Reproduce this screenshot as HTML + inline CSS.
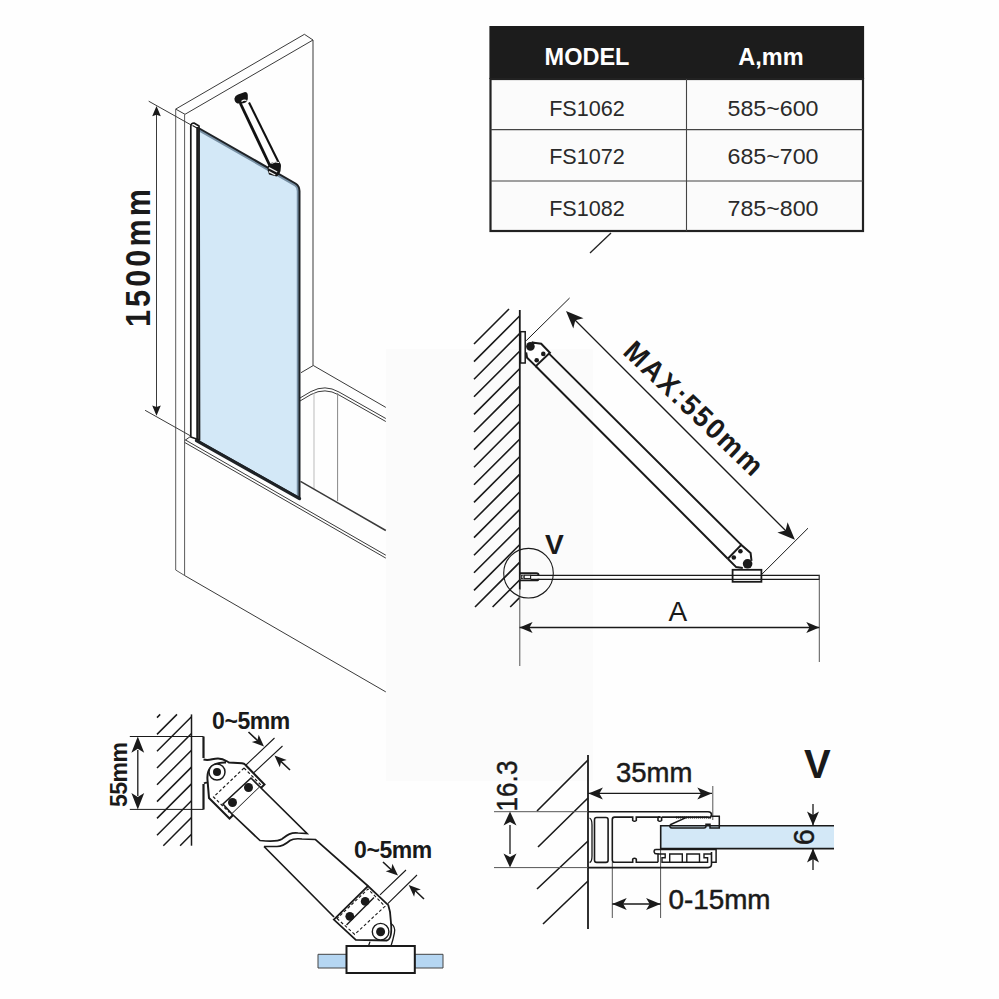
<!DOCTYPE html>
<html><head><meta charset="utf-8">
<style>
html,body{margin:0;padding:0;background:#fff;width:999px;height:999px;overflow:hidden}
svg{display:block}
text{font-family:"Liberation Sans",sans-serif}
</style></head>
<body>
<svg width="999" height="999" viewBox="0 0 999 999">
<rect x="0" y="0" width="999" height="999" fill="#fefefe"/>
<rect x="386" y="349" width="207" height="432" fill="#fbfbfb"/>
<g fill="none" stroke="#3a3a3a" stroke-width="1">
  <path d="M175.7,109.1 L304.4,34.3 L313,40 L185,114.3 Z"/>
  <path d="M175.7,109.1 V570 L184.6,575.5" stroke="#5a5a5a"/>
  <path d="M184.6,114.3 V575.5" stroke="#5a5a5a"/>
  <path d="M313,40 V365.5"/>
  <path d="M301,372.7 L313.3,365.5 L385.8,407.4"/>
  <path d="M300,398 L311,391.5 Q325,384 339,392 L385.8,418.5"/>
  <path d="M300,401 L311,394.5 Q325,387 339,395 L385.8,421.5"/>
  <path d="M314,393 V489" stroke="#bbb"/>
  <path d="M337.6,393 V501" stroke="#888"/>
  <path d="M300.5,481.3 L385.8,530.5" stroke-width="1.5"/>
  <path d="M184.75,440.5 L190,436.8 M185.5,440 L385.8,555.2"/>
  <path d="M184.75,442.5 L385.8,558.1"/>
  <path d="M184.6,575.5 L385.8,691.9"/>
  <path d="M148.7,101.2 L191.7,125.3"/>
  <path d="M145.1,410.3 L190.4,435.8"/>
  <path d="M156.5,112 V410"/>
</g>
<g fill="#1a1a1a">
  <path d="M156.5,106 L152.2,116.2 L156.5,114.8 L160.8,116.2 Z"/>
  <path d="M156.5,415.8 L152.2,405.6 L156.5,407 L160.8,405.6 Z"/>
</g>
<defs><clipPath id="gclip"><path d="M198.5,128 L295.5,183.5 Q299.5,186 299.5,191 V498 L196.5,440 Z"/></clipPath></defs>
<path d="M198.5,128 L295.5,183.5 Q299.5,186 299.5,191 V498 L196.5,440 Z" fill="#d3e8f7"/>
<path d="M198.5,128 L295.5,183.5 Q299.5,186 299.5,191 V498" fill="none" stroke="#7890a4" stroke-width="5.5" clip-path="url(#gclip)"/>
<path d="M198.5,128 L295.5,183.5 Q299.5,186 299.5,191 V498 L196.5,440 Z" fill="none" stroke="#1e2226" stroke-width="2" stroke-linejoin="round"/>
<path d="M196.5,440.6 L299.5,498.6" stroke="#1e2226" stroke-width="3.2" stroke-linecap="round"/>
<path d="M190.8,437 V126 Q191,123 194,123 L199,126 L199.5,440 Z" fill="#fff" stroke="#1a1a1a" stroke-width="1.7" stroke-linejoin="round"/>
<path d="M192.5,125.5 L197,128" stroke="#1a1a1a" stroke-width="1.2"/>
<path d="M197.5,127 V440" stroke="#1a1a1a" stroke-width="2.5"/>
<g stroke="#111" fill="none">
  <path d="M240.2,103 L269.8,165.5" stroke-width="2.8"/>
  <path d="M249,102.5 L278.9,163" stroke-width="2.1"/>
</g>
<path d="M234.4,98.5 Q235,95.5 238,94.5 L245,92 Q247.5,92 247.8,95 L247.8,99 Q247,103 242,103.5 L237.5,103.5 Q234.5,102.5 234.4,98.5Z" fill="#151515"/>
<path d="M241.5,101.5 Q244,99.5 246.5,100.5" stroke="#fff" stroke-width="1.3" fill="none"/>
<path d="M267.5,167 Q268.5,164 272,162.5 L277.5,161.5 Q281,162 281,166 L280.5,171 Q279,175.5 276.5,176.5 L269,174.5 Q267.5,172 267.5,167Z" fill="#151515"/>
<path d="M268.8,167.6 L277.2,172 M268.8,171.6 L275.3,175" stroke="#eee" stroke-width="1.4" fill="none"/>
<path d="M271.5,163.5 Q275,161 279,162.5" stroke="#fff" stroke-width="1" fill="none"/>
<text transform="translate(150,327) rotate(-90) scale(0.88,1)" font-size="34.8" font-weight="bold" letter-spacing="3.5" fill="#1a1a1a">1500mm</text>
<rect x="489.4" y="26" width="374.7" height="53" fill="#1c1c1c"/>
<rect x="490.5" y="79" width="372.5" height="152" fill="#fbfbfb" stroke="#222" stroke-width="2.2"/>
<path d="M490.5,129.6 H863 M490.5,181 H863 M686.5,79 V231" stroke="#444" stroke-width="1.1" fill="none"/>
<g font-size="23.5" font-weight="bold" fill="#fff" text-anchor="middle">
  <text x="587" y="65.2">MODEL</text>
  <text x="771" y="65.2">A,mm</text>
</g>
<g font-size="22.6" fill="#2a2a2a" text-anchor="middle">
  <text x="587" y="115.6" textLength="75.7" lengthAdjust="spacingAndGlyphs">FS1062</text>
  <text x="773" y="115.6" textLength="90.9" lengthAdjust="spacingAndGlyphs">585~600</text>
  <text x="587" y="163.6" textLength="75.7" lengthAdjust="spacingAndGlyphs">FS1072</text>
  <text x="773" y="163.6" textLength="90.9" lengthAdjust="spacingAndGlyphs">685~700</text>
  <text x="587" y="216" textLength="75.7" lengthAdjust="spacingAndGlyphs">FS1082</text>
  <text x="773" y="216" textLength="90.9" lengthAdjust="spacingAndGlyphs">785~800</text>
</g>
<path d="M611,233 L590,253" stroke="#222" stroke-width="1.3"/>
<g fill="none" stroke="#1a1a1a">
  <path d="M474.0,344.0 L509.0,309.0 M474.0,361.6 L519.6,316.0 M474.0,379.2 L519.6,333.6 M474.0,396.8 L519.6,351.2 M474.0,414.4 L519.6,368.8 M474.0,432.0 L519.6,386.4 M474.0,449.6 L519.6,404.0 M474.0,467.2 L519.6,421.6 M474.0,484.8 L519.6,439.2 M474.0,502.4 L519.6,456.8 M474.0,520.0 L519.6,474.4 M474.0,537.6 L519.6,492.0 M474.0,555.2 L519.6,509.6 M474.0,572.8 L519.6,527.2 M474.0,590.4 L519.6,544.8 M475.0,607.0 L519.6,562.4 M492.6,607.0 L519.6,580.0 M510.2,607.0 L519.6,597.6" stroke-width="1.6"/>
  <path d="M519.8,310 V589.5" stroke-width="1.8"/>
  <path d="M519.8,589 V666" stroke-width="1" stroke="#555"/>
  <rect x="520.6" y="331.7" width="4.6" height="31.3" stroke-width="1.5" fill="#fff"/>
  <path d="M526.2,340.7 L569.6,298" stroke-width="1"/>
  <path d="M761.8,574.3 L808,528.2" stroke-width="1"/>
  <path d="M571,316 L790,535" stroke-width="1.3"/>
  <path d="M549,353.6 L741.3,544.9 M535.8,366.2 L727.8,558.7" stroke-width="2"/>
  <path d="M531.6,342.2 Q534,343 535.8,343.1 L541.2,343.7 L549.9,352.7 L535.8,366.2 L527.1,357.8 L526.2,352.4" stroke-width="2" fill="#fff"/>
  <path d="M727.8,558.7 L741.3,544.9 L750.6,553 L751.5,560.8 M727.8,558.7 L736.2,567.1 L742.8,568" stroke-width="2" fill="#fff"/>
  <path d="M530.6,575.3 H819.3 V579.3 H530.6" stroke-width="1.2"/>
  <path d="M819.3,575 V662" stroke-width="1" stroke="#555"/>
  <path d="M520,573.2 H536.3 Q538.6,573.2 538.6,575.3 M520,580.4 H536.3 Q538.6,580.4 538.6,578.8" stroke-width="1.9"/>
  <rect x="521.5" y="575.2" width="1.6" height="3.4" stroke-width="0.8"/>
  <rect x="524.2" y="575.2" width="6.4" height="3.4" stroke-width="1.1"/>
  <rect x="732.6" y="569.8" width="28.8" height="12" stroke-width="1.8" fill="#fff"/>
  <path d="M732.6,575.3 H761.4 M732.6,579.4 H761.4" stroke-width="1.2"/>
  <circle cx="528.5" cy="573.2" r="24.8" stroke-width="1.1"/>
  <path d="M519.6,627.5 H819.3" stroke-width="1.3"/>
</g>
<g fill="#1a1a1a">
  <circle cx="530.4" cy="346.4" r="4.3"/>
  <circle cx="543.3" cy="353.9" r="2.3"/>
  <circle cx="536.7" cy="360.2" r="2.3"/>
  <circle cx="747.6" cy="563.8" r="4.8"/>
  <circle cx="740.4" cy="551.2" r="2.3"/>
  <circle cx="733.8" cy="557.5" r="2.3"/>
  <path d="M566.0,311.0 L583.5,318.3 L575.3,320.3 L573.3,328.5 Z"/>
  <path d="M794.9,539.8 L777.4,532.5 L785.6,530.5 L787.6,522.3 Z"/>
  <path d="M519.6,627.5 L532.6,622.0 L529.4,627.5 L532.6,633.0 Z"/>
  <path d="M819.3,627.5 L806.3,633.0 L809.5,627.5 L806.3,622.0 Z"/>
</g>
<text transform="translate(621.7,353.3) rotate(43.6) scale(0.94,1)" font-size="28.8" font-weight="bold" letter-spacing="2.3" fill="#1a1a1a">MAX:550mm</text>
<text x="545" y="554.4" font-size="28.2" font-weight="bold" fill="#1a1a1a">V</text>
<text x="668.5" y="621.2" font-size="28" fill="#1a1a1a">A</text>
<g fill="none" stroke="#1a1a1a">
  <path d="M157.0,717.6 L160.2,714.4 M157.0,734.4 L177.0,714.4 M157.0,751.2 L191.5,716.7 M157.0,768.0 L191.5,733.5 M157.0,784.8 L191.5,750.3 M157.0,801.6 L191.5,767.1 M157.0,818.4 L191.5,783.9 M157.0,835.2 L191.5,800.7 M163.3,845.7 L191.5,817.5 M180.1,845.7 L191.5,834.3" stroke-width="1.5"/>
  <path d="M191.5,714.4 V845.7" stroke-width="1.5"/>
  <path d="M129.8,736.5 H203.5 M129.8,809.4 H203.5" stroke-width="1"/>
  <path d="M137.8,750 V796" stroke-width="1.3"/>
  <path d="M203.5,736.5 V758 M203.5,784 V809.4" stroke-width="2.2"/>
  <path d="M203.5,759.5 C210,761 212,758.5 218,758.5 C224,758.5 226,761 229,762.5 L242,763.2 Q244.5,763.5 246,765.5 L264.5,784.5 L229.5,818.5 L209,798 L207.5,780 Q206,762 226,762.5" stroke-width="2" fill="#fff"/>
  <path d="M204,783.5 Q206,782 207.8,783" stroke-width="1.8"/>
  <circle cx="217" cy="772" r="8" stroke-width="1.5" fill="#fff"/>
  <path d="M223,804 L251,778 L260,787 L232,814 Z" stroke-width="1.6"/>
  <path d="M244,768 L213.5,797 L229.5,812.5 M244,768 L262,786" stroke-width="1.2" stroke-dasharray="3,2.2"/>
  <path d="M260,787 L307,833.5 L298,833 C290,832 286,836 282,839 C279,841 270,841.5 260,840.5 L232,814" stroke-width="1.7" fill="#fff"/>
  <path d="M264,846.5 L277,846.5 C283,846.5 287,843 290,840.5 C293,838.5 297,838.5 302,839 L315.5,839.5 L368,886 M264,846.5 L334,917" stroke-width="1.7"/>
  <path d="M333.8,919.6 L368,886 L388.3,905.2 L390,911.8 L391,922.9 C392,935 390,940 386.7,940.5 L355.8,939.9 Z" stroke-width="1.8" fill="#fff"/>
  <path d="M346.5,925 L374,897.5" stroke-width="1.5"/>
  <path d="M337,918.5 L354.7,934.4 L385,906.3 L368,889 Z" stroke-width="1.1" stroke-dasharray="3,2.2"/>
  <circle cx="380.6" cy="931.7" r="8.3" stroke-width="1.4" fill="#fff"/>
  <path d="M390.5,922.9 Q396,927 394.4,933 Q393,940 391,946 M370,941.6 L368.5,946" stroke-width="1.3"/>
  <path d="M318,954.3 H346.5 V968 H318 Z M414.8,954.3 H443 V968 H414.8 Z" stroke-width="1" fill="#b5d6f2" stroke="#444"/>
  <rect x="346.5" y="946" width="68.3" height="27" stroke-width="2" fill="#fff"/>
  <path d="M246,765 L274.5,738 M254,772.5 L282.5,746" stroke-width="1.1"/>
  <path d="M248.5,732 L258,741 M290,770 L280,760.5" stroke-width="1.6"/>
  <path d="M380,894.8 L406,870 M387.8,903.6 L417,875" stroke-width="1.1"/>
  <path d="M383,862 L392,870.5 M424,899 L414,889.5" stroke-width="1.6"/>
</g>
<g fill="#1a1a1a">
  <path d="M137.8,736.5 L144.2,752.8 L137.8,748.7 L131.4,752.8 Z"/>
  <path d="M137.8,809.4 L131.4,792.9 L137.8,797.0 L144.2,792.9 Z"/>
  <path d="M264.0,746.5 L251.8,742.0 L257.4,740.4 L258.7,734.7 Z"/>
  <path d="M274.5,755.5 L286.7,760.0 L281.1,761.6 L279.8,767.3 Z"/>
  <path d="M398.0,875.5 L385.7,871.2 L391.3,869.5 L392.4,863.8 Z"/>
  <path d="M408.7,884.9 L420.9,889.4 L415.3,891.0 L414.1,896.7 Z"/>
  <circle cx="217" cy="772" r="4"/>
  <circle cx="248.5" cy="787.5" r="4.5"/>
  <circle cx="232.5" cy="802.5" r="4.5"/>
  <circle cx="380.6" cy="931.7" r="4.5"/>
  <circle cx="365.2" cy="901.4" r="4.4"/>
  <circle cx="349.8" cy="916.3" r="4.4"/>
</g>
<text transform="translate(126.8,807) rotate(-90)" font-size="23" font-weight="bold" letter-spacing="-0.5" fill="#1a1a1a">55mm</text>
<text x="212" y="728.7" font-size="23" font-weight="bold" fill="#1a1a1a" letter-spacing="-0.4">0~5mm</text>
<text x="354" y="858.3" font-size="23" font-weight="bold" fill="#1a1a1a" letter-spacing="-0.4">0~5mm</text>
<g fill="none" stroke="#1a1a1a">
  <path d="M537,811 L588,760 M538,847 L588,798 M537,889 L588,841 M543,924 L588,881" stroke-width="1.6"/>
  <path d="M588,755 V929" stroke-width="1.8"/>
  <path d="M494,811.7 H588 M494,867.6 H588" stroke-width="1" stroke="#555"/>
  <path d="M510,825 V854" stroke-width="1.3"/>
  <path d="M588,793.4 H712" stroke-width="1.3"/>
  <path d="M712.8,786 V820" stroke-width="1" stroke="#555"/>
  <path d="M612.3,862 V918 M660.6,849 V918" stroke-width="1" stroke="#555"/>
  <path d="M612.3,904 H660.5" stroke-width="1.3"/>
  <path d="M813,804 V826 M813,848 V870" stroke-width="1.3"/>
  <!-- profile -->
  <path d="M588,811.7 H708 Q711.5,811.7 711.5,814.5 Q711.5,817.6 708.5,817.6" stroke-width="1.6"/>
  <path d="M588,867.6 H708 Q711.5,867.6 711.5,864 V852" stroke-width="1.6"/>
  <path d="M589.5,818 Q592,819 592,825 V856 Q592,862 589.5,862.5" stroke-width="1.3"/>
  <rect x="594.5" y="817.5" width="13.6" height="44.9" rx="2.2" stroke-width="1.6"/>
  <path d="M660.5,817.1 H636.3 V820.5 Q634.5,822 632.7,820.5 V817.1 H614.5 Q612.3,817.1 612.3,819.5 V860 Q612.3,862.3 614.5,862.3 H632.7 V859 Q634.5,857.5 636.3,859 V862.3 H658" stroke-width="1.6"/>
  <path d="M660.5,817.1 H658 M661.6,817.1 V820.5 Q659.8,822 658,820.5 V817.1" stroke-width="1.6"/>
  <path d="M661.6,817.1 H708.5" stroke-width="1.6"/>
</g>
<path d="M660.7,825.7 H834 V848.6 H660.7 Z" fill="#d3e8f7"/>
<path d="M834,825.7 H660.7 V848.6 H834" fill="none" stroke="#1a1a1a" stroke-width="1.6"/>
<g fill="none" stroke="#1a1a1a" stroke-width="1.5">
  <path d="M670.2,824.8 L686,817.6 M670.2,824.8 Q669,828 672,828 H704 Q706,828 706,826 V824.3 H710 V828 H719.3 V816.2 H712"/>
  <path d="M676,817.6 H711" stroke-dasharray="1.2,0.8" stroke-width="2"/>
  <path d="M655.3,849.5 Q653,851 655,853.5 L658,854 V862.2 M655.3,849.5 H716.1 V862.2 H712"/>
  <path d="M658,854 H665.2 V857.7 H662 V862.2 H707.6 V857.7 H704 V854 H712" stroke-width="1.4"/>
  <path d="M669.7,862.2 V854 H682.3 V862.2 M686.8,862.2 V854 H699.5 V862.2" stroke-width="1.4"/>
</g>
<g fill="#1a1a1a">
  <path d="M510.0,811.6 L516.5,825.6 L510.0,822.1 L503.5,825.6 Z"/>
  <path d="M510.0,867.6 L503.5,853.6 L510.0,857.1 L516.5,853.6 Z"/>
  <path d="M588.5,793.4 L602.9,787.4 L599.3,793.4 L602.9,799.4 Z"/>
  <path d="M711.7,793.4 L697.3,799.4 L700.9,793.4 L697.3,787.4 Z"/>
  <path d="M612.3,904.0 L626.7,898.0 L623.1,904.0 L626.7,910.0 Z"/>
  <path d="M660.5,904.0 L646.1,910.0 L649.7,904.0 L646.1,898.0 Z"/>
  <path d="M813.0,825.6 L807.0,811.6 L813.0,815.1 L819.0,811.6 Z"/>
  <path d="M813.0,848.6 L819.0,862.6 L813.0,859.1 L807.0,862.6 Z"/>
</g>
<text transform="translate(517.3,811.5) rotate(-90) scale(1,1.13)" font-size="26.2" fill="#1a1a1a" stroke="#1a1a1a" stroke-width="0.4">16.3</text>
<text x="616" y="782" font-size="27.5" fill="#1a1a1a" stroke="#1a1a1a" stroke-width="0.5">35mm</text>
<text x="668.5" y="909" font-size="27.8" fill="#1a1a1a" stroke="#1a1a1a" stroke-width="0.5">0-15mm</text>
<text x="804" y="778" font-size="40" font-weight="bold" fill="#1a1a1a">V</text>
<text transform="translate(813.5,845.2) rotate(-90)" font-size="28.8" fill="#1a1a1a" stroke="#1a1a1a" stroke-width="0.4">6</text>
</svg>
</body></html>
